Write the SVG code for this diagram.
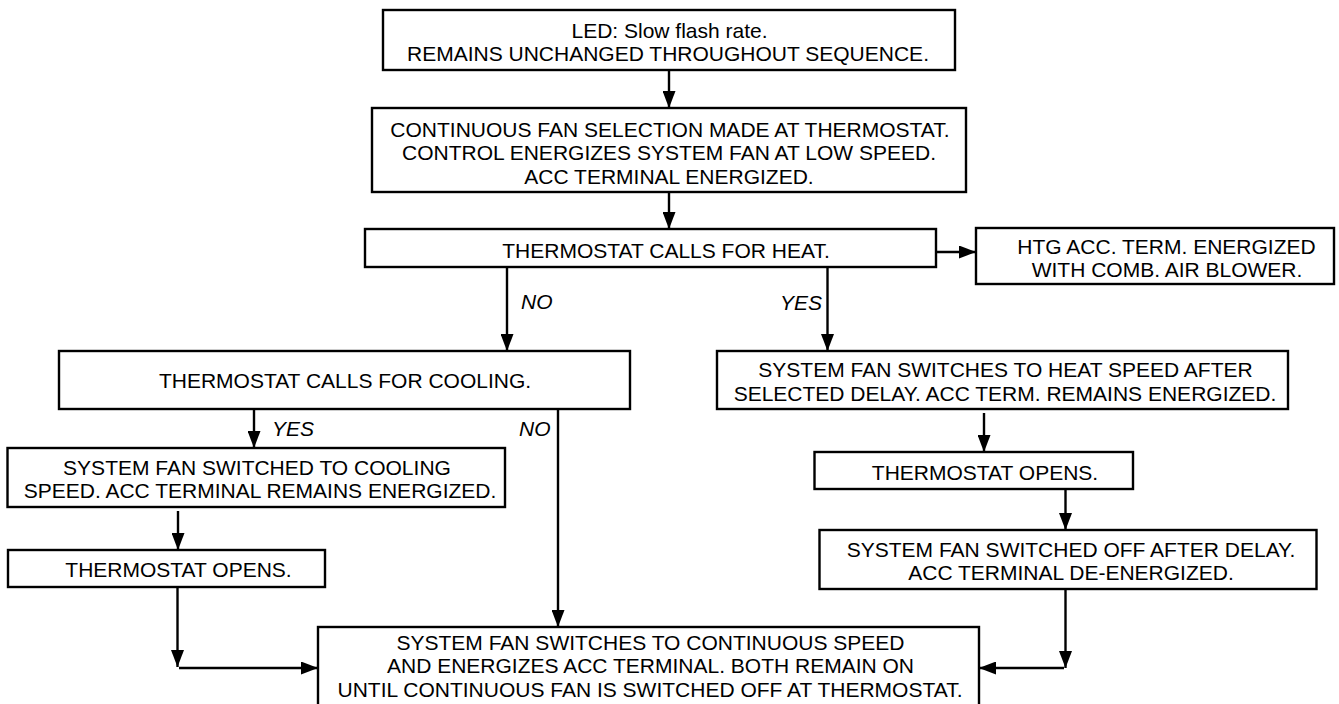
<svg xmlns="http://www.w3.org/2000/svg" width="1339" height="704" viewBox="0 0 1339 704">
<style>
rect.box{fill:#fff;stroke:#000;stroke-width:2.4}
text{font-family:"Liberation Sans",Arial,Helvetica,sans-serif;font-size:21px;fill:#000;text-anchor:middle}
text.lbl{font-style:italic;text-anchor:start}
.conn path{fill:none;stroke:#000;stroke-width:2.4}
</style>
<defs>
<marker id="ah" viewBox="0 0 17 13" refX="17" refY="6.5" markerWidth="17" markerHeight="13" markerUnits="userSpaceOnUse" orient="auto">
<path d="M0,0 L17,6.5 L0,13 z" fill="#000"/>
</marker>
</defs>
<rect width="1339" height="704" fill="#fff"/>
<g class="conn" id="connectors">
<path d="M669,70 V108" marker-end="url(#ah)"/>
<path d="M669,192 V229" marker-end="url(#ah)"/>
<path d="M936,252 H976" marker-end="url(#ah)"/>
<path d="M507,267 V351" marker-end="url(#ah)"/>
<path d="M827.5,267 V351" marker-end="url(#ah)"/>
<path d="M254,409 V448" marker-end="url(#ah)"/>
<path d="M558,409 V627" marker-end="url(#ah)"/>
<path d="M178,511 V550" marker-end="url(#ah)"/>
<path d="M177.5,587 V667" marker-end="url(#ah)"/>
<path d="M179,668 H318" marker-end="url(#ah)"/>
<path d="M984,413 V452" marker-end="url(#ah)"/>
<path d="M1065.5,489 V530" marker-end="url(#ah)"/>
<path d="M1065.5,589 V668" marker-end="url(#ah)"/>
<path d="M1064,668 H979" marker-end="url(#ah)"/>
</g>
<g id="led"><rect class="box" x="383" y="10" width="572" height="60"/>
<text x="669.5" y="37.5">LED: Slow flash rate.</text>
<text x="668" y="61">REMAINS UNCHANGED THROUGHOUT SEQUENCE.</text></g>
<g id="fan"><rect class="box" x="372" y="108" width="594" height="84"/>
<text x="670" y="137">CONTINUOUS FAN SELECTION MADE AT THERMOSTAT.</text>
<text x="669" y="160">CONTROL ENERGIZES SYSTEM FAN AT LOW SPEED.</text>
<text x="669" y="184">ACC TERMINAL ENERGIZED.</text></g>
<g id="heat"><rect class="box" x="365" y="229" width="571" height="38"/>
<text x="666" y="258">THERMOSTAT CALLS FOR HEAT.</text></g>
<g id="htg"><rect class="box" x="976" y="228" width="358" height="56"/>
<text x="1166.5" y="254">HTG ACC. TERM. ENERGIZED</text>
<text x="1167" y="277">WITH COMB. AIR BLOWER.</text></g>
<g id="cool"><rect class="box" x="59" y="351" width="571" height="58"/>
<text x="345" y="388">THERMOSTAT CALLS FOR COOLING.</text></g>
<g id="heatspd"><rect class="box" x="717" y="351" width="571" height="58"/>
<text x="1005.5" y="377">SYSTEM FAN SWITCHES TO HEAT SPEED AFTER</text>
<text x="1005" y="401">SELECTED DELAY. ACC TERM. REMAINS ENERGIZED.</text></g>
<g id="coolspd"><rect class="box" x="7.5" y="448" width="497.5" height="59"/>
<text x="257" y="475">SYSTEM FAN SWITCHED TO COOLING</text>
<text x="260" y="498">SPEED. ACC TERMINAL REMAINS ENERGIZED.</text></g>
<g id="topenl"><rect class="box" x="8" y="550" width="317" height="37"/>
<text x="178.5" y="577">THERMOSTAT OPENS.</text></g>
<g id="topenr"><rect class="box" x="814.5" y="452" width="318.5" height="37"/>
<text x="985" y="480">THERMOSTAT OPENS.</text></g>
<g id="fanoff"><rect class="box" x="819.5" y="530" width="497" height="59"/>
<text x="1071" y="557">SYSTEM FAN SWITCHED OFF AFTER DELAY.</text>
<text x="1071" y="580">ACC TERMINAL DE-ENERGIZED.</text></g>
<g id="final"><rect class="box" x="318" y="627" width="661" height="80"/>
<text x="650.5" y="650">SYSTEM FAN SWITCHES TO CONTINUOUS SPEED</text>
<text x="650.5" y="673">AND ENERGIZES ACC TERMINAL. BOTH REMAIN ON</text>
<text x="650" y="697">UNTIL CONTINUOUS FAN IS SWITCHED OFF AT THERMOSTAT.</text></g>
<g id="labels">
<text class="lbl" x="521" y="309">NO</text>
<text class="lbl" x="780" y="310">YES</text>
<text class="lbl" x="272" y="436">YES</text>
<text class="lbl" x="519" y="436">NO</text>
</g>
</svg>
